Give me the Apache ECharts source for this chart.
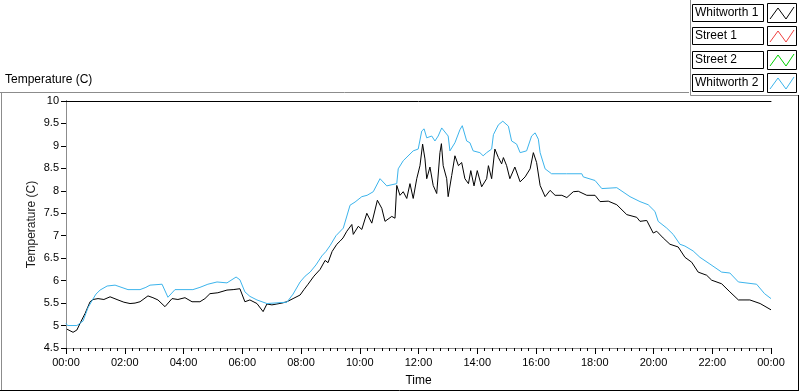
<!DOCTYPE html>
<html>
<head>
<meta charset="utf-8">
<script src="https://cdn.jsdelivr.net/npm/echarts@6/dist/echarts.min.js"></script>
<style>html,body{margin:0;padding:0;background:#fff;}#c{width:800px;height:392px;}</style>
</head>
<body>
<div id="c"></div>
<script>
// Time in hours of day (0..24), values in degrees C
const w1Times = [0.03,0.24,0.37,0.48,0.65,0.82,0.92,1.09,1.29,1.50,1.77,1.97,2.18,2.35,2.52,2.79,2.96,3.13,3.37,3.61,3.81,4.05,4.29,4.56,4.73,4.90,5.17,5.48,5.69,5.92,6.09,6.26,6.50,6.71,6.84,7.01,7.18,7.35,7.52,7.73,7.97,8.10,8.24,8.44,8.65,8.82,8.92,9.06,9.22,9.33,9.43,9.56,9.73,9.78,9.95,10.07,10.24,10.41,10.60,10.75,10.86,11.09,11.20,11.26,11.37,11.48,11.60,11.71,11.82,11.94,12.05,12.14,12.22,12.28,12.39,12.50,12.62,12.73,12.78,12.84,12.96,13.01,13.13,13.24,13.36,13.47,13.58,13.70,13.78,13.89,14.00,14.15,14.32,14.38,14.49,14.60,14.72,14.83,14.89,15.00,15.11,15.28,15.46,15.63,15.80,15.91,16.02,16.14,16.31,16.48,16.65,16.88,17.05,17.27,17.44,17.73,18.01,18.18,18.46,18.75,19.09,19.43,19.54,19.77,19.99,20.11,20.33,20.56,20.84,21.07,21.30,21.52,21.81,21.98,22.32,22.60,22.89,23.28,23.63,24.00];
const w1Values = [4.92,4.85,4.90,5.05,5.27,5.53,5.58,5.60,5.58,5.64,5.57,5.52,5.49,5.50,5.53,5.66,5.62,5.57,5.42,5.60,5.58,5.62,5.53,5.53,5.60,5.71,5.73,5.79,5.80,5.82,5.53,5.57,5.49,5.31,5.48,5.46,5.48,5.50,5.53,5.60,5.68,5.80,5.92,6.10,6.25,6.45,6.40,6.65,6.81,6.88,6.95,7.10,7.25,7.03,7.21,7.14,7.50,7.28,7.79,7.61,7.32,7.43,7.39,8.12,7.90,7.98,7.83,8.16,7.83,8.27,8.56,9.04,8.71,8.27,8.53,8.12,7.94,8.85,9.05,8.56,8.27,7.87,8.34,8.78,8.56,8.63,8.27,8.16,8.45,8.11,8.45,8.09,8.27,8.56,8.27,8.93,8.74,8.60,8.74,8.56,8.27,8.53,8.20,8.31,8.49,8.85,8.63,8.12,7.87,8.01,7.90,7.90,7.85,7.98,7.99,7.90,7.90,7.76,7.77,7.69,7.47,7.41,7.32,7.34,7.06,7.10,6.95,6.81,6.75,6.52,6.41,6.19,6.12,6.01,5.93,5.75,5.57,5.57,5.49,5.35];

const w2Times = [0.00,0.05,0.37,0.58,0.75,0.89,1.02,1.16,1.40,1.67,2.11,2.52,2.72,2.86,3.27,3.47,3.71,4.32,4.56,4.83,5.14,5.48,5.79,5.92,6.09,6.26,6.50,6.84,7.52,7.73,7.97,8.14,8.31,8.51,8.71,8.85,8.99,9.19,9.44,9.67,9.84,10.07,10.25,10.46,10.69,10.92,11.26,11.31,11.48,11.82,11.99,12.11,12.19,12.28,12.45,12.56,12.67,12.79,12.84,13.01,13.07,13.24,13.41,13.49,13.64,13.75,13.86,14.09,14.20,14.32,14.49,14.55,14.72,14.87,15.06,15.17,15.34,15.46,15.68,15.85,15.97,16.08,16.14,16.31,16.53,17.04,17.56,17.61,18.01,18.24,18.75,19.20,19.54,19.82,20.05,20.16,20.45,20.67,20.90,21.07,21.35,21.58,21.92,22.32,22.60,22.89,23.51,23.78,24.00];
const w2Values = [5.05,5.00,5.00,5.10,5.40,5.56,5.70,5.79,5.88,5.90,5.80,5.80,5.85,5.90,5.92,5.63,5.80,5.80,5.85,5.92,5.97,5.95,6.08,6.02,5.75,5.65,5.57,5.49,5.52,5.70,5.97,6.10,6.19,6.35,6.55,6.65,6.78,7.00,7.17,7.68,7.75,7.87,7.90,7.98,8.27,8.11,8.16,8.49,8.67,8.89,8.93,9.33,9.38,9.18,9.22,9.11,9.22,9.40,9.42,9.22,8.89,9.07,9.36,9.45,9.11,9.07,8.89,8.85,8.78,8.85,8.93,9.25,9.47,9.55,9.44,9.11,9.04,8.85,8.89,9.22,9.29,9.15,8.85,8.49,8.38,8.38,8.38,8.31,8.23,8.05,8.07,7.87,7.76,7.69,7.54,7.32,7.17,7.03,6.81,6.77,6.66,6.52,6.37,6.19,6.17,5.97,5.92,5.71,5.60];

const street1Values = [];
const street2Values = [];

const legendNames = ['Whitworth 1', 'Street 1', 'Street 2', 'Whitworth 2'];
const legendColors = ['#000000', '#f04040', '#00d000', '#3cb4ec'];

const FONT = 'Liberation Sans';
function pairs(t, v) { return t.map((x, i) => [x, v[i]]); }
function fmtTime(v) { const h = Math.round(v) % 24; return (h < 10 ? '0' : '') + h + ':00'; }

const chart = echarts.init(document.getElementById('c'), null, { renderer: 'canvas' });

const graphic = [
  { type: 'text', left: 5, top: 74, style: { text: 'Temperature (C)', font: '12px ' + FONT, fill: '#000' } },
  // panel frame
  { type: 'line', shape: { x1: 0, y1: 92.5, x2: 689, y2: 92.5 }, style: { stroke: '#8c8c8c', lineWidth: 1 } },
  { type: 'line', shape: { x1: 1.5, y1: 92.5, x2: 1.5, y2: 390 }, style: { stroke: '#8c8c8c', lineWidth: 1 } },
  { type: 'line', shape: { x1: 0, y1: 390.5, x2: 799, y2: 390.5 }, style: { stroke: '#000', lineWidth: 1 } },
  { type: 'line', shape: { x1: 798.5, y1: 95, x2: 798.5, y2: 391 }, style: { stroke: '#000', lineWidth: 1 } },
  { type: 'line', shape: { x1: 690.5, y1: 0, x2: 690.5, y2: 95.5 }, style: { stroke: '#8c8c8c', lineWidth: 1 } },
  { type: 'line', shape: { x1: 690.5, y1: 95.5, x2: 798, y2: 95.5 }, style: { stroke: '#8c8c8c', lineWidth: 1 } }
];
legendNames.forEach((name, i) => {
  const y0 = Math.round(4 + 23.4 * i);
  graphic.push({ type: 'rect', shape: { x: 692.5, y: y0 + 0.5, width: 71, height: 17 }, style: { fill: '#fff', stroke: '#000', lineWidth: 1 } });
  graphic.push({ type: 'text', x: 695, y: y0 + 9, style: { text: name, font: '12px ' + FONT, fill: '#000', textVerticalAlign: 'middle' } });
  graphic.push({ type: 'rect', shape: { x: 767.5, y: y0 - 0.5, width: 29, height: 19 }, style: { fill: '#fff', stroke: '#000', lineWidth: 1 } });
  graphic.push({ type: 'polyline', shape: { points: [[770, y0 + 15], [778, y0 + 4], [786, y0 + 15], [794, y0 + 3]] }, style: { stroke: legendColors[i], lineWidth: 1, fill: null } });
});

chart.setOption({
  animation: false,
  backgroundColor: '#fff',
  textStyle: { fontFamily: FONT },
  grid: { left: 66, top: 101, right: 29, bottom: 40, show: false },
  graphic: graphic,
  xAxis: [{
    type: 'value', min: 0, max: 24, interval: 2,
    name: 'Time', nameLocation: 'middle', nameGap: 27, nameMoveOverlap: false,
    nameTextStyle: { color: '#000', fontSize: 12, fontFamily: FONT },
    axisLine: { show: true, lineStyle: { color: '#8c8c8c', width: 1 } },
    axisTick: { show: true, length: 6, lineStyle: { color: '#000' } },
    minorTick: { show: true, splitNumber: 8, length: 3, lineStyle: { color: '#000' } },
    axisLabel: { color: '#000', fontSize: 11, fontFamily: FONT, margin: 9, formatter: fmtTime, showMaxLabel: true, showMinLabel: true },
    splitLine: { show: false }
  }, {
    type: 'value', min: 0, max: 24, position: 'top',
    axisLine: { show: true, onZero: false, lineStyle: { color: '#000', width: 1 } },
    axisTick: { show: false }, axisLabel: { show: false }, splitLine: { show: false }
  }],
  yAxis: [{
    type: 'value', min: 4.5, max: 10, interval: 0.5,
    name: 'Temperature (C)', nameLocation: 'middle', nameRotate: 90, nameGap: 28, nameMoveOverlap: false,
    nameTextStyle: { color: '#1a1a1a', fontSize: 12, fontFamily: FONT },
    axisLine: { show: true, lineStyle: { color: '#000', width: 1 } },
    axisTick: { show: true, length: 5, lineStyle: { color: '#000' } },
    axisLabel: { color: '#000', fontSize: 11, fontFamily: FONT, margin: 7 },
    splitLine: { show: false }
  }, {
    type: 'value', min: 4.5, max: 10, position: 'right',
    axisLine: { show: true, lineStyle: { color: '#8c8c8c', width: 1 } },
    axisTick: { show: false }, axisLabel: { show: false }, splitLine: { show: false }
  }],
  series: [
    { name: 'Whitworth 1', type: 'line', data: pairs(w1Times, w1Values), showSymbol: false, lineStyle: { color: legendColors[0], width: 1 }, itemStyle: { color: legendColors[0] } },
    { name: 'Street 1', type: 'line', data: street1Values, showSymbol: false, lineStyle: { color: legendColors[1], width: 1 } },
    { name: 'Street 2', type: 'line', data: street2Values, showSymbol: false, lineStyle: { color: legendColors[2], width: 1 } },
    { name: 'Whitworth 2', type: 'line', data: pairs(w2Times, w2Values), showSymbol: false, lineStyle: { color: legendColors[3], width: 1 }, itemStyle: { color: legendColors[3] } }
  ]
});
</script>
</body>
</html>
